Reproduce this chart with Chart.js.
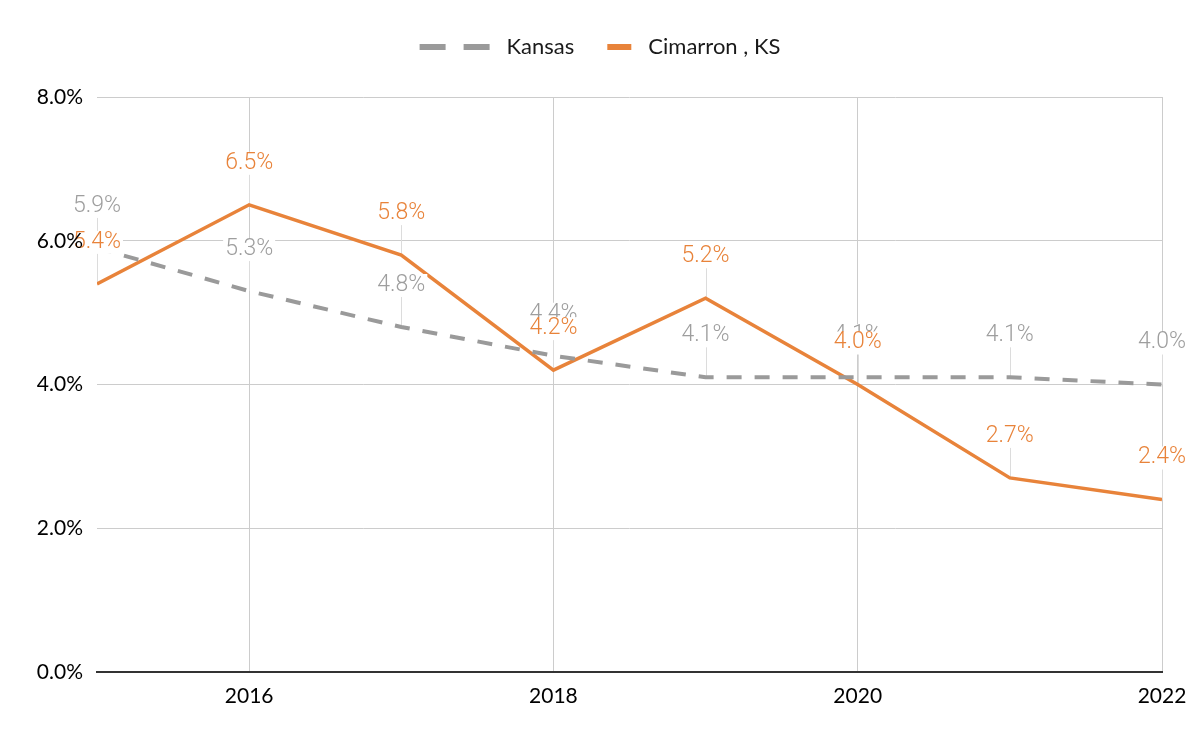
<!DOCTYPE html>
<html>
<head>
<meta charset="utf-8">
<script src="https://cdn.jsdelivr.net/npm/chart.js@4"></script>
<style>
  html, body { margin: 0; padding: 0; background: #fff; }
  #wrap { width: 1200px; height: 746px; }
</style>
</head>
<body>
<div id="wrap"><canvas id="chart"></canvas></div>
<script>
const years = [2015, 2016, 2017, 2018, 2019, 2020, 2021, 2022];
const kansas = [5.9, 5.3, 4.8, 4.4, 4.1, 4.1, 4.1, 4.0];
const cimarron = [5.4, 6.5, 5.8, 4.2, 5.2, 4.0, 2.7, 2.4];
const xTicks = [2016, 2018, 2020, 2022];
const yTicks = [0, 2, 4, 6, 8];

const GRAY = '#9a9a9a';
const ORANGE = '#e8833a';
const AXIS_FONT = 'Lato';
const LABEL_FONT = 'Roboto';

function toPoints(vals) {
    return vals.map((v, i) => ({ x: years[i], y: v }));
}

// leader lines + value labels above each point
const valueLabels = {
    id: 'valueLabels',
    beforeDatasetsDraw(chart) {
        const ctx = chart.ctx;
        ctx.save();
        ctx.strokeStyle = '#dcdcdc';
        ctx.lineWidth = 1;
        chart.data.datasets.forEach((ds, di) => {
            chart.getDatasetMeta(di).data.forEach(pt => {
                ctx.beginPath();
                ctx.moveTo(Math.round(pt.x) + 0.5, pt.y);
                ctx.lineTo(Math.round(pt.x) + 0.5, pt.y - 32);
                ctx.stroke();
            });
        });
        ctx.restore();
    },
    afterDatasetsDraw(chart) {
        const ctx = chart.ctx;
        ctx.save();
        ctx.font = '300 23px ' + LABEL_FONT;
        ctx.textAlign = 'center';
        ctx.textBaseline = 'middle';
        chart.data.datasets.forEach((ds, di) => {
            chart.getDatasetMeta(di).data.forEach((pt, i) => {
                const txt = ds.data[i].y.toFixed(1) + '%';
                const w = ctx.measureText(txt).width;
                const cy = pt.y - 42;
                ctx.fillStyle = '#ffffff';
                ctx.fillRect(pt.x - w / 2 - 2, cy - 11, w + 4, 23);
                ctx.fillStyle = ds.labelColor;
                ctx.fillText(txt, pt.x, cy);
            });
        });
        ctx.restore();
    },
    afterDraw(chart) {
        const ctx = chart.ctx;
        const ys = chart.scales.y;

        // y tick labels drawn last so they sit on top of the value labels
        ctx.save();
        ctx.font = '21px ' + AXIS_FONT;
        ctx.fillStyle = '#000';
        ctx.textAlign = 'right';
        ctx.textBaseline = 'middle';
        yTicks.forEach(v => {
            ctx.fillText(v.toFixed(1) + '%', ys.right - 14, ys.getPixelForValue(v));
        });
        ctx.restore();

        // legend row
        ctx.save();
        ctx.font = '22px ' + AXIS_FONT;
        ctx.textBaseline = 'middle';
        const y = 47;
        const w1 = ctx.measureText('Kansas').width;
        const w2 = ctx.measureText('Cimarron , KS').width;
        const total = 70 + 17 + w1 + 33 + 24 + 17 + w2;
        let x = 600 - total / 2;
        ctx.lineWidth = 6;
        ctx.strokeStyle = GRAY;
        ctx.setLineDash([26, 18]);
        ctx.beginPath();
        ctx.moveTo(x, y);
        ctx.lineTo(x + 70, y);
        ctx.stroke();
        x += 87;
        ctx.fillStyle = '#1a1a1a';
        ctx.fillText('Kansas', x, y);
        x += w1 + 33;
        ctx.setLineDash([]);
        ctx.strokeStyle = ORANGE;
        ctx.beginPath();
        ctx.moveTo(x, y);
        ctx.lineTo(x + 24, y);
        ctx.stroke();
        x += 41;
        ctx.fillText('Cimarron , KS', x, y);
        ctx.restore();
    }
};

new Chart(document.getElementById('chart'), {
    type: 'line',
    data: {
        datasets: [
            {
                label: 'Kansas',
                data: toPoints(kansas),
                borderColor: GRAY,
                borderWidth: 4,
                borderDash: [15, 13],
                pointRadius: 0,
                labelColor: '#9e9e9e'
            },
            {
                label: 'Cimarron , KS',
                data: toPoints(cimarron),
                borderColor: ORANGE,
                borderWidth: 3.5,
                pointRadius: 0,
                labelColor: ORANGE
            }
        ]
    },
    options: {
        responsive: true,
        maintainAspectRatio: false,
        animation: false,
        layout: { padding: { top: 97, right: 38, left: 0, bottom: 0 } },
        plugins: {
            legend: { display: false },
            tooltip: { enabled: false }
        },
        scales: {
            x: {
                type: 'linear',
                min: 2015,
                max: 2022,
                afterBuildTicks: s => { s.ticks = xTicks.map(v => ({ value: v })); },
                afterFit: s => { s.height = 74; },
                grid: { color: '#cccccc', lineWidth: 1, drawTicks: false },
                border: { display: true, color: '#333333', width: 2 },
                ticks: {
                    padding: 12,
                    color: '#000',
                    font: { family: AXIS_FONT, size: 21 },
                    callback: v => String(v),
                    maxRotation: 0
                }
            },
            y: {
                min: 0,
                max: 8,
                afterBuildTicks: s => { s.ticks = yTicks.map(v => ({ value: v })); },
                afterFit: s => { s.width = 97; },
                grid: { color: '#cccccc', lineWidth: 1, drawTicks: false },
                border: { display: false },
                ticks: {
                    padding: 14,
                    color: 'rgba(0,0,0,0)',
                    font: { family: AXIS_FONT, size: 21 },
                    callback: v => v.toFixed(1) + '%'
                }
            }
        }
    },
    plugins: [valueLabels]
});
</script>
</body>
</html>
